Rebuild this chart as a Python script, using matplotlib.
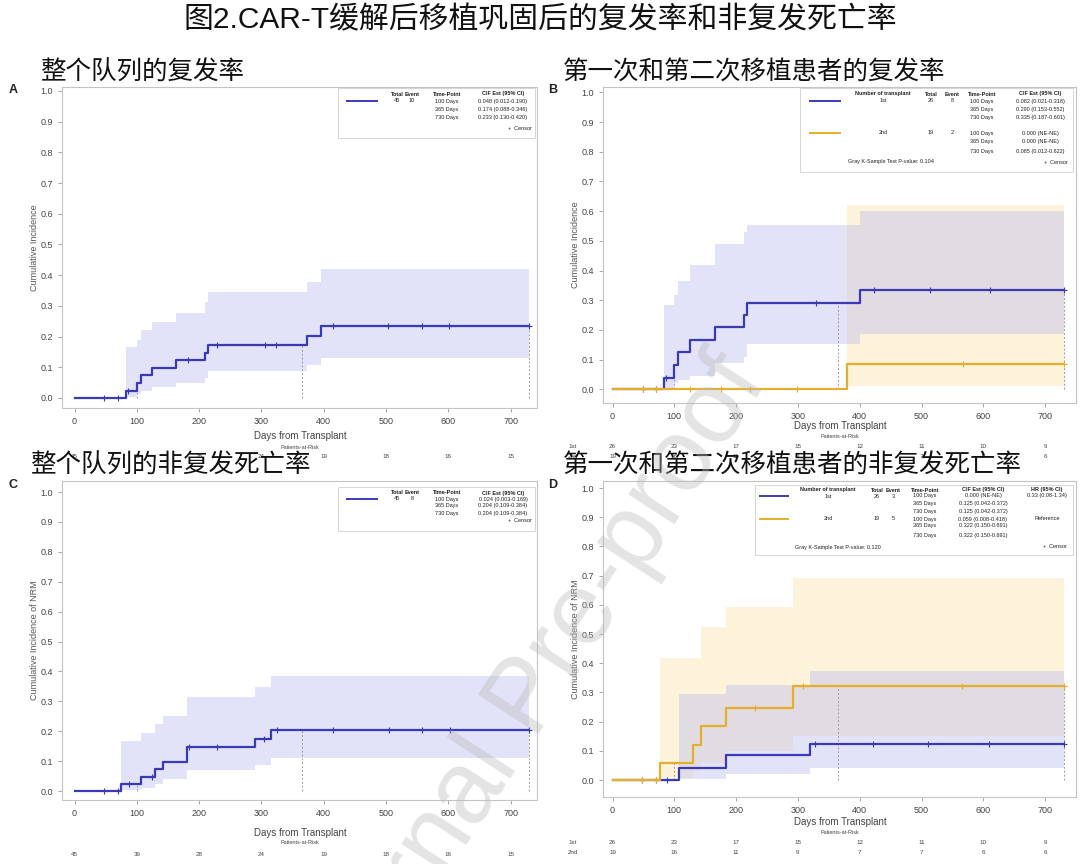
import numpy as np
import matplotlib
matplotlib.use("Agg")
import matplotlib.pyplot as plt
from matplotlib.patches import Rectangle
from matplotlib.transforms import blended_transform_factory

plt.rcParams["font.family"] = ["Liberation Sans", "Noto Sans CJK SC"]

W, H = 1080, 864
END = 730

# ---- data ----
days_ticks = [0, 100, 200, 300, 400, 500, 600, 700]

# A: relapse, whole cohort
A_t = [0, 82, 100, 106, 124, 163, 209, 215, 373, 395]
A_cif = [0, 0.022, 0.048, 0.074, 0.099, 0.123, 0.148, 0.174, 0.202, 0.233]
A_lo = [0, 0.003, 0.012, 0.024, 0.037, 0.050, 0.064, 0.088, 0.107, 0.130]
A_hi = [0, 0.166, 0.190, 0.222, 0.249, 0.277, 0.312, 0.346, 0.379, 0.420]
A_cens = [48, 69, 86, 182, 228, 305, 324, 415, 504, 557, 601, 730]
A_risk = [45, 39, 28, 24, 19, 18, 16, 15]

# B: relapse by transplant number
B1_t = [0, 83, 100, 106, 126, 166, 213, 218, 400]
B1_cif = [0, 0.038, 0.082, 0.125, 0.166, 0.209, 0.250, 0.290, 0.335]
B1_lo = [0, 0.003, 0.021, 0.030, 0.045, 0.088, 0.108, 0.153, 0.187]
B1_hi = [0, 0.284, 0.318, 0.366, 0.420, 0.490, 0.530, 0.552, 0.601]
B1_cens = [49, 70, 87, 330, 423, 513, 611, 730]
B2_t = [0, 380]
B2_cif = [0, 0.085]
B2_lo = [0, 0.012]
B2_hi = [0, 0.622]
B2_cens = [49, 70, 126, 176, 223, 298, 567, 730]
risk_1st = [26, 23, 17, 15, 12, 11, 10, 9]
risk_2nd = [19, 16, 11, 9, 7, 7, 6, 6]

# C: NRM, whole cohort
C_t = [0, 75, 107, 129, 142, 180, 289, 315]
C_cif = [0, 0.023, 0.048, 0.074, 0.098, 0.148, 0.175, 0.204]
C_lo = [0, 0.003, 0.009, 0.023, 0.039, 0.070, 0.087, 0.109]
C_hi = [0, 0.169, 0.193, 0.223, 0.251, 0.313, 0.347, 0.384]
C_cens = [48, 69, 87, 124, 183, 229, 304, 325, 415, 505, 558, 602, 730]
C_risk = [45, 39, 28, 24, 19, 18, 16, 15]

# D: NRM by transplant number
D1_t = [0, 108, 184, 319]
D1_cif = [0, 0.042, 0.086, 0.125]
D1_lo = [0, 0.005, 0.022, 0.042]
D1_hi = [0, 0.294, 0.325, 0.372]
D1_cens = [48, 70, 88, 328, 421, 511, 609, 730]
D2_t = [0, 77, 130, 143, 184, 292]
D2_cif = [0, 0.059, 0.120, 0.185, 0.248, 0.322]
D2_lo = [0, 0.008, 0.030, 0.060, 0.100, 0.150]
D2_hi = [0, 0.418, 0.418, 0.523, 0.594, 0.691]
D2_cens = [48, 70, 231, 308, 565, 730]

BLUE = "#3a3ab4"
GOLD = "#e6ae2c"
TXT = "#444444"


def fx(px):
    return px / W


def fy(py):
    return 1 - py / H


def step_at(t, times, vals):
    idx = np.searchsorted(times, t, side="right") - 1
    return np.asarray(vals)[idx]


fig = plt.figure(figsize=(W / 100, H / 100), dpi=100)


def make_axes(l, r, t, b, xlim, ylim, ylabel):
    ax = fig.add_axes([fx(l), fy(b), (r - l) / W, (b - t) / H])
    ax.set_xlim(xlim)
    ax.set_ylim(ylim)
    ax.set_xticks(days_ticks)
    yt = np.round(np.arange(0, 1.01, 0.1), 1)
    ax.set_yticks(yt)
    ax.set_yticklabels([f"{v:.1f}" for v in yt])
    for s in ax.spines.values():
        s.set_color("#c4c4c4")
        s.set_linewidth(0.8)
    ax.tick_params(colors="#999999", labelcolor=TXT, labelsize=6.5,
                   length=3, width=0.6)
    ax.set_ylabel(ylabel, fontsize=6.5, color="#555555", labelpad=1)
    return ax


def fill_group(ax, times, lo, hi, color, alpha):
    t = list(times) + [END]
    ax.fill_between(t, list(lo) + [lo[-1]], list(hi) + [hi[-1]],
                    step="post", color=color, alpha=alpha, lw=0)


def line_group(ax, times, cif, cens, color):
    t = list(times) + [END]
    ax.step(t, list(cif) + [cif[-1]], where="post", color=color, lw=1.6)
    ax.plot(cens, step_at(cens, times, cif), "+", ms=5, mew=0.8,
            color=color, ls="none")


def ref_lines(ax, groups):
    for d in (100, 365, 730):
        top = max(step_at(d, g[0], g[1]) for g in groups)
        ax.plot([d, d], [0, top], color="#9a9a9a", lw=0.7, ls=(0, (2, 2)))


def bottom_texts(ax, label_y, pr_y, rows, cx):
    fig.text(fx(cx), fy(label_y), "Days from Transplant", ha="center",
             va="center", fontsize=7, color=TXT)
    fig.text(fx(cx), fy(pr_y), "Patients-at-Risk", ha="center",
             va="center", fontsize=4, color=TXT)
    tr = blended_transform_factory(ax.transData, fig.transFigure)
    for name, vals, y in rows:
        if name:
            fig.text(fx(573), fy(y), name, ha="center", va="center",
                     fontsize=4.5, color=TXT)
        for d, v in zip(days_ticks, vals):
            ax.text(d, fy(y), str(v), transform=tr, ha="center",
                    va="center", fontsize=4.5, color=TXT)


def t4(x, y, s, ha="center", bold=False):
    fig.text(fx(x), fy(y), s, ha=ha, va="center", fontsize=4,
             color="#222222", fontweight="bold" if bold else "normal")


def sample(x0, x1, y, color):
    fig.add_artist(plt.Line2D([fx(x0), fx(x1)], [fy(y), fy(y)],
                              color=color, lw=1.4))


def box(x0, x1, y0, y1):
    fig.add_artist(Rectangle((fx(x0), fy(y1)), (x1 - x0) / W, (y1 - y0) / H,
                             fill=False, ec="#d6d6d6", lw=0.7))


# ---- panel A ----
axA = make_axes(62, 537, 87, 408, (-20.1, 742.4), (-0.0326, 1.013),
                "Cumulative Incidence")
fill_group(axA, A_t, A_lo, A_hi, "#b8b8f0", 0.4)
ref_lines(axA, [(A_t, A_cif)])
line_group(axA, A_t, A_cif, A_cens, BLUE)
bottom_texts(axA, 436, 447, [("", A_risk, 456)], 300)

# ---- panel B ----
axB = make_axes(603, 1076, 87, 403, (-15.4, 750), (-0.046, 1.018),
                "Cumulative Incidence")
fill_group(axB, B2_t, B2_lo, B2_hi, "#fbe6ad", 0.45)
fill_group(axB, B1_t, B1_lo, B1_hi, "#b8b8f0", 0.4)
ref_lines(axB, [(B1_t, B1_cif), (B2_t, B2_cif)])
line_group(axB, B1_t, B1_cif, B1_cens, BLUE)
line_group(axB, B2_t, B2_cif, B2_cens, GOLD)
bottom_texts(axB, 426, 436, [("1st", risk_1st, 446), ("2nd", risk_2nd, 456)], 840)

# ---- panel C ----
axC = make_axes(62, 537, 481, 800, (-20.1, 742.4), (-0.030, 1.037),
                "Cumulative Incidence of NRM")
fill_group(axC, C_t, C_lo, C_hi, "#b8b8f0", 0.4)
ref_lines(axC, [(C_t, C_cif)])
line_group(axC, C_t, C_cif, C_cens, BLUE)
bottom_texts(axC, 833, 843, [("", C_risk, 854)], 300)

# ---- panel D ----
axD = make_axes(603, 1076, 481, 797, (-15.4, 750), (-0.058, 1.024),
                "Cumulative Incidence of NRM")
fill_group(axD, D2_t, D2_lo, D2_hi, "#fbe6ad", 0.45)
fill_group(axD, D1_t, D1_lo, D1_hi, "#b8b8f0", 0.4)
ref_lines(axD, [(D1_t, D1_cif), (D2_t, D2_cif)])
line_group(axD, D1_t, D1_cif, D1_cens, BLUE)
line_group(axD, D2_t, D2_cif, D2_cens, GOLD)
bottom_texts(axD, 822, 832, [("1st", risk_1st, 843), ("2nd", risk_2nd, 853)], 840)

# ---- legend tables ----
for (yh, rows, ycens, ev, vals) in [
        (94, (101, 109, 118), 128, "10",
         ["0.048 (0.012-0.190)", "0.174 (0.088-0.346)", "0.233 (0.130-0.420)"]),
        (493, (499, 506, 514), 521, "8",
         ["0.024 (0.003-0.169)", "0.204 (0.109-0.384)", "0.204 (0.109-0.384)"])]:
    box(338, 535, yh - 6, ycens + 10)
    t4(397, yh, "Total", bold=True)
    t4(412, yh, "Event", bold=True)
    t4(447, yh, "Time-Point", bold=True)
    t4(503, yh, "CIF Est (95% CI)", bold=True)
    sample(347, 377, rows[0], BLUE)
    t4(397, rows[0], "45")
    t4(412, rows[0], ev)
    for y, tp, v in zip(rows, ["100 Days", "365 Days", "730 Days"], vals):
        t4(447, y, tp)
        t4(503, y, v)
    t4(532, ycens, "+  Censor", ha="right")

# panel B table
box(800, 1073, 88, 172)
t4(883, 94, "Number of transplant", bold=True)
t4(931, 94, "Total", bold=True)
t4(952, 94, "Event", bold=True)
t4(982, 94, "Time-Point", bold=True)
t4(1040, 94, "CIF Est (95% CI)", bold=True)
B_rows = [
    (101, "1st", "26", "8", "100 Days", "0.082 (0.021-0.318)"),
    (110, "", "", "", "365 Days", "0.290 (0.153-0.552)"),
    (118, "", "", "", "730 Days", "0.335 (0.187-0.601)"),
    (133, "2nd", "19", "2", "100 Days", "0.000 (NE-NE)"),
    (142, "", "", "", "365 Days", "0.000 (NE-NE)"),
    (151, "", "", "", "730 Days", "0.085 (0.012-0.622)"),
]
for y, g, tot, ev, tp, v in B_rows:
    for x, s in zip((883, 931, 952, 982, 1040), (g, tot, ev, tp, v)):
        if s:
            t4(x, y, s)
sample(810, 840, 101, BLUE)
sample(810, 840, 133, GOLD)
t4(848, 162, "Gray K-Sample Test P-value: 0.104", ha="left")
t4(1068, 162, "+  Censor", ha="right")

# panel D table
box(755, 1073, 485, 555)
for x, s in zip((828, 877, 893, 925, 983, 1047),
                ("Number of transplant", "Total", "Event", "Time-Point",
                 "CIF Est (95% CI)", "HR (95% CI)")):
    t4(x, 490, s, bold=True)
D_rows = [
    (496, "1st", "26", "3", "100 Days", "0.000 (NE-NE)", "0.33 (0.08-1.34)"),
    (503, "", "", "", "365 Days", "0.125 (0.042-0.372)", ""),
    (511, "", "", "", "730 Days", "0.125 (0.042-0.372)", ""),
    (519, "2nd", "19", "5", "100 Days", "0.059 (0.008-0.418)", "Reference"),
    (526, "", "", "", "365 Days", "0.322 (0.150-0.691)", ""),
    (535, "", "", "", "730 Days", "0.322 (0.150-0.691)", ""),
]
for row in D_rows:
    y = row[0]
    for x, s in zip((828, 877, 893, 925, 983, 1047), row[1:]):
        if s:
            t4(x, y, s)
sample(760, 788, 496, BLUE)
sample(760, 788, 519, GOLD)
t4(795, 547, "Gray K-Sample Test P-value: 0.120", ha="left")
t4(1067, 547, "+  Censor", ha="right")

# ---- titles ----
fig.text(0.5, fy(20), "图2.CAR-T缓解后移植巩固后的复发率和非复发死亡率",
         ha="center", va="center", fontsize=21.5, color="#111111")
for x, y, s in [(40, 73, "整个队列的复发率"),
                (563, 73, "第一次和第二次移植患者的复发率"),
                (30, 466, "整个队列的非复发死亡率"),
                (563, 466, "第一次和第二次移植患者的非复发死亡率")]:
    fig.text(fx(x), fy(y), s, ha="left", va="center", fontsize=18.4,
             color="#111111")
for x, y, s in [(13, 90, "A"), (553, 90, "B"), (13, 485, "C"), (553, 485, "D")]:
    fig.text(fx(x), fy(y), s, ha="center", va="center", fontsize=9,
             fontweight="bold", color="#222222")

# watermark
fig.text(fx(530), fy(700), "Journal Pre-proof", rotation=57, ha="center",
         va="center", fontsize=74, color="#bbbbbb", alpha=0.4)

fig.savefig("out.png", dpi=100)
